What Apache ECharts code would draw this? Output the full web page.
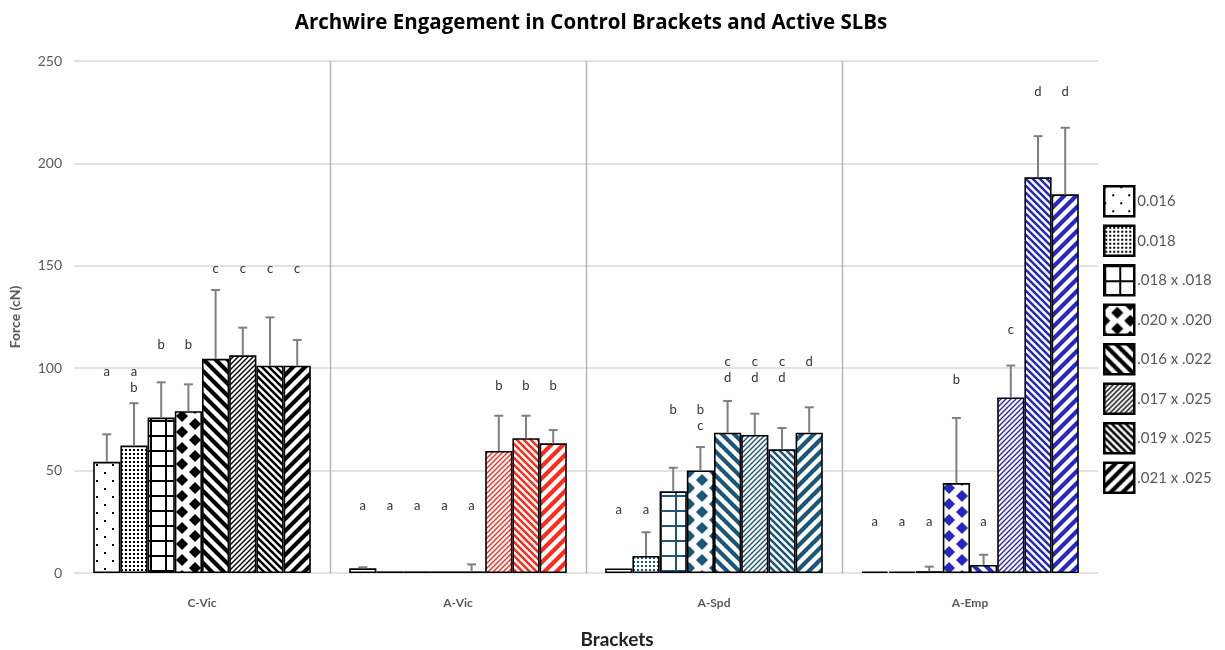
<!DOCTYPE html>
<html><head><meta charset="utf-8">
<script src="https://cdn.jsdelivr.net/npm/echarts@6/dist/echarts.min.js"></script>
<style>html,body{margin:0;padding:0;background:#fff}#c{width:1225px;height:650px}</style>
</head><body><div id="c"></div>
<script>
// ---- data ----
const categories = ['C-Vic', 'A-Vic', 'A-Spd', 'A-Emp'];
const wires = ['0.016', '0.018', '.018 x .018', '.020 x .020', '.016 x .022', '.017 x .025', '.019 x .025', '.021 x .025'];
const yTicks = [0, 50, 100, 150, 200, 250];

const meanCVic = [54.3, 62.2, 75.9, 79.0, 104.6, 106.3, 101.2, 101.2];
const sdCVic   = [13.4, 20.7, 17.2, 13.1, 33.6, 13.5, 23.6, 12.6];
const meanAVic = [2.3, 0.8, 0.8, 0.8, 0.8, 59.6, 65.8, 63.3];
const sdAVic   = [0.5, 0, 0, 0, 3.4, 17.2, 11.0, 6.5];
const meanASpd = [2.2, 8.3, 39.9, 50.1, 68.5, 67.4, 60.4, 68.5];
const sdASpd   = [0, 11.6, 11.5, 11.4, 15.5, 10.4, 10.4, 12.4];
const meanAEmp = [0.7, 0.7, 0.9, 43.9, 3.9, 85.7, 193.2, 184.9];
const sdAEmp   = [0, 0, 2.2, 31.8, 5.0, 15.6, 20.1, 32.5];

const lettersCVic = ['a', 'a\nb', 'b', 'b', 'c', 'c', 'c', 'c'];
const letterYCVic = [98.2, 98.2, 111.3, 111.3, 148.3, 148.3, 148.3, 148.3];
const lettersAVic = ['a', 'a', 'a', 'a', 'a', 'b', 'b', 'b'];
const letterYAVic = [32.9, 32.9, 32.9, 32.9, 32.9, 91.5, 91.5, 91.5];
const lettersASpd = ['a', 'a', 'b', 'b\nc', 'c\nd', 'c\nd', 'c\nd', 'd'];
const letterYASpd = [30.8, 30.8, 79.6, 79.6, 102.9, 102.9, 102.9, 102.9];
const lettersAEmp = ['a', 'a', 'a', 'b', 'a', 'c', 'd', 'd'];
const letterYAEmp = [24.9, 24.9, 24.9, 94.3, 24.9, 118.8, 235.0, 235.0];

// ---- styling ----
const catColors = ['#000000', '#ff2b1c', '#1b5578', '#2828be'];
const means = [meanCVic, meanAVic, meanASpd, meanAEmp];
const sds = [sdCVic, sdAVic, sdASpd, sdAEmp];
const letters = [lettersCVic, lettersAVic, lettersASpd, lettersAEmp];
const letterYs = [letterYCVic, letterYAVic, letterYASpd, letterYAEmp];
const GAP = 0.15;
const FONT = 'Lato, "Open Sans", sans-serif';

function tile(w, h, color, draw) {
  const c = document.createElement('canvas');
  c.width = w; c.height = h;
  const g = c.getContext('2d');
  g.fillStyle = '#fff'; g.fillRect(0, 0, w, h);
  g.fillStyle = color; g.strokeStyle = color;
  draw(g, w, h);
  return c;
}
function stripes(s, lw, dir) {
  return function (g) {
    g.lineWidth = lw; g.lineCap = 'square';
    g.beginPath();
    for (let k = -1; k <= 1; k++) {
      if (dir === '/') { g.moveTo(k * s, s); g.lineTo(k * s + s, 0); }
      else { g.moveTo(k * s, 0); g.lineTo(k * s + s, s); }
    }
    g.stroke();
  };
}
function diamond(g, cx, cy, r) {
  g.beginPath(); g.moveTo(cx, cy - r); g.lineTo(cx + r, cy); g.lineTo(cx, cy + r); g.lineTo(cx - r, cy); g.closePath(); g.fill();
}
const patternMakers = [
  c => tile(16, 16, c, g => { g.fillRect(0, 0, 2, 2); g.fillRect(8, 8, 2, 2); }),
  c => tile(4, 4, c, g => { g.fillRect(1, 1, 2, 2); }),
  c => tile(15, 15, c, g => { g.fillRect(0, 0, 15, 2); g.fillRect(0, 0, 2, 15); }),
  c => tile(26, 16, c, g => { [[0,0],[26,0],[0,16],[26,16],[13,8]].forEach(p => diamond(g, p[0], p[1], 6)); }),
  c => tile(12, 12, c, stripes(12, 4.2, '\\')),
  c => tile(5, 5, c, stripes(5, 1.4, '/')),
  c => tile(7, 7, c, stripes(7, 2.5, '\\')),
  c => tile(12, 12, c, stripes(12, 4.2, '/'))
];
function pat(si, ci) { return { image: patternMakers[si](catColors[ci]), repeat: 'repeat' }; }

const barSeries = wires.map((w, si) => ({
  name: w,
  type: 'bar',
  barGap: '0%',
  barCategoryGap: (GAP * 100) + '%',
  z: 3,
  itemStyle: { color: pat(si, 0), borderColor: '#000', borderWidth: 1.6 },
  emphasis: { disabled: true },
  data: categories.map((c, ci) => ({ value: means[ci][si], itemStyle: { color: pat(si, ci) } }))
}));

const errData = [];
const letterData = [];
categories.forEach((c, ci) => {
  wires.forEach((w, si) => {
    errData.push([ci, means[ci][si], sds[ci][si], si]);
    letterData.push([ci, letterYs[ci][si], si, ci]);
  });
});

function barX(api, ci, si) {
  const band = api.size([1, 0])[0];
  const bw = band * (1 - GAP) / wires.length;
  return api.coord([ci, 0])[0] + (si - (wires.length - 1) / 2) * bw;
}

const errSeries = {
  type: 'custom', z: 4, silent: true,
  encode: { x: 0, y: 1 },
  data: errData,
  renderItem: function (params, api) {
    const ci = api.value(0), m = api.value(1), sd = api.value(2), si = api.value(3);
    if (!(sd > 0)) return null;
    const x = barX(api, ci, si);
    const y0 = api.coord([ci, m])[1];
    const y1 = api.coord([ci, m + sd])[1];
    const st = { stroke: '#7f7f7f', lineWidth: 2 };
    return { type: 'group', children: [
      { type: 'line', shape: { x1: x, y1: y0, x2: x, y2: y1 }, style: st },
      { type: 'line', shape: { x1: x - 4.5, y1: y1, x2: x + 4.5, y2: y1 }, style: st }
    ] };
  }
};

const letterSeries = {
  type: 'custom', z: 5, silent: true,
  encode: { x: 0, y: 1 },
  data: letterData,
  renderItem: function (params, api) {
    const ci = api.value(0), ly = api.value(1), si = api.value(2);
    const x = barX(api, ci, si);
    const y = api.coord([ci, ly])[1];
    return { type: 'text', x: x, y: y - 8, style: {
      text: letters[ci][si], textAlign: 'center', verticalAlign: 'top',
      font: '13px ' + FONT, fill: '#333', lineHeight: 16 } };
  }
};

const sepSeries = {
  type: 'custom', z: 1, silent: true,
  encode: { x: 0, y: 1 },
  data: categories.slice(1).map((c, i) => [i + 1, 0]),
  renderItem: function (params, api) {
    const ci = api.value(0);
    const band = api.size([1, 0])[0];
    const x = Math.round(api.coord([ci, 0])[0] - band / 2) + 0.5;
    return { type: 'line', shape: { x1: x, y1: api.coord([ci, yTicks[0]])[1], x2: x, y2: api.coord([ci, yTicks[yTicks.length - 1]])[1] },
      style: { stroke: '#b4b4b4', lineWidth: 1.5 } };
  }
};

const chart = echarts.init(document.getElementById('c'), null, { renderer: 'canvas' });
chart.setOption({
  animation: false,
  backgroundColor: '#fff',
  title: {
    text: 'Archwire Engagement in Control Brackets and Active SLBs',
    left: 586, top: 8, textAlign: 'center',
    textStyle: { fontFamily: '"Open Sans", Lato, sans-serif', fontWeight: 'bold', fontSize: 20.5, color: '#000' }
  },
  legend: {
    data: wires, orient: 'vertical', left: 1103, top: 185, padding: 0,
    icon: 'rect',
    itemWidth: 30, itemHeight: 30, itemGap: 7,
    selectedMode: false,
    itemStyle: { borderColor: '#000', borderWidth: 2.5 },
    textStyle: { fontFamily: FONT, fontSize: 15, color: '#595959', padding: [0, 0, 0, -2] }
  },
  grid: { left: 74, right: 127, top: 61, bottom: 77, containLabel: false, outerBoundsMode: 'none' },
  xAxis: {
    type: 'category', data: categories,
    name: 'Brackets', nameLocation: 'middle', nameGap: 57,
    nameTextStyle: { fontFamily: FONT, fontWeight: 'bold', fontSize: 19, color: '#222', padding: [0, 0, 0, 62] },
    axisLine: { show: false }, axisTick: { show: false },
    axisLabel: { fontFamily: FONT, fontWeight: 'bold', fontSize: 12, color: '#595959', margin: 24 },
    splitLine: { show: false }
  },
  yAxis: {
    type: 'value', min: yTicks[0], max: yTicks[yTicks.length - 1], interval: yTicks[1] - yTicks[0],
    name: 'Force (cN)', nameLocation: 'middle', nameGap: 52,
    nameTextStyle: { fontFamily: FONT, fontWeight: 'bold', fontSize: 14, color: '#595959' },
    axisLine: { show: false }, axisTick: { show: false },
    axisLabel: { fontFamily: FONT, fontSize: 14, color: '#595959', margin: 12 },
    splitLine: { lineStyle: { color: '#d9d9d9', width: 1.5 } }
  },
  series: [sepSeries].concat(barSeries, [errSeries, letterSeries])
});
</script>
</body></html>
